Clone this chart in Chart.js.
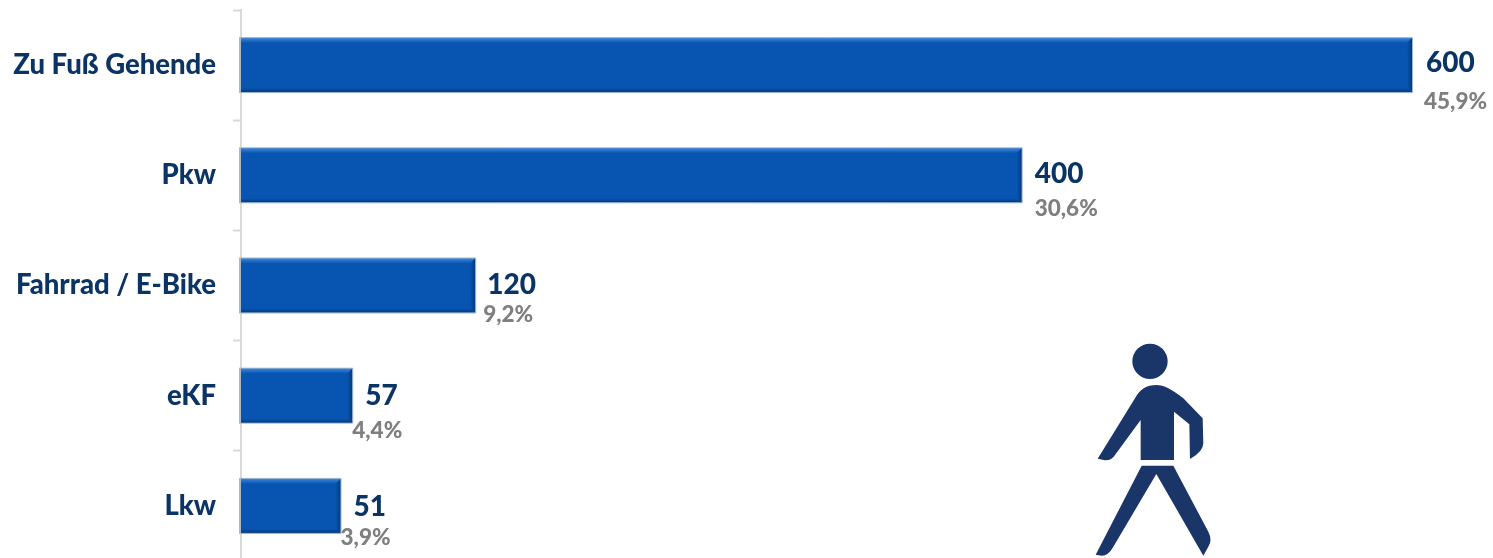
<!DOCTYPE html>
<html lang="de">
<head>
<meta charset="utf-8">
<title>Verkehrsteilnahme</title>
<script src="https://cdn.jsdelivr.net/npm/chart.js@4"></script>
<style>
  html, body { margin: 0; padding: 0; width: 1493px; height: 558px; overflow: hidden; background: #fff; }
  #wrap { position: relative; width: 1493px; height: 558px; overflow: hidden; }
  canvas { position: absolute; left: 0; top: 0; }
  #walker { position: absolute; left: 1060px; top: 330px; width: 180px; height: 228px; }
</style>
</head>
<body>
<div id="wrap">
  <canvas id="chart" width="1493" height="562"></canvas>
  <!-- pedestrian pictogram, decoration only -->
  <svg id="walker" viewBox="0 0 540 684" fill="#1a3668">
    <circle cx="270" cy="94" r="53"/>
    <path d="M242,390 L242,270 L165,375 Q155,392 135,391 L113,386 L225,205 Q245,165 290,165 Q320,165 370,205 L428,265 L430,340 Q430,365 390,387 L388,283 L342,245 L342,390 Z"/>
    <path d="M245,407 L340,407 L445,605 Q458,630 445,650 L430,677 L289,432 L160,650 Q145,677 125,677 L107,674 Z"/>
  </svg>
</div>
<script>
const categories = ["Zu Fuß Gehende", "Pkw", "Fahrrad / E-Bike", "eKF", "Lkw"]
const values = [600, 400, 120, 57, 51]
const shares = ["45,9%", "30,6%", "9,2%", "4,4%", "3,9%"]

// label placement relative to the bar end, in px
const valueOffsetX = [14, 13, 12, 13, 13]
const shareOffsetX = [12, 13, 8, 0, 0]
const valueOffsetY = [-2, -1, -1, 0, 1]
const shareOffsetY = [37, 33, 29, 35, 32]

const NAVY = "#0a3466"
const GREY = "#7f7f7f"

// bevel + shadow look of the bars
const barBevel = {
  id: "barBevel",
  afterDatasetsDraw(chart) {
    const { ctx } = chart
    chart.getDatasetMeta(0).data.forEach(bar => {
      const l = bar.base, r = bar.x
      const t = bar.y - bar.height / 2, b = bar.y + bar.height / 2
      const s = 5
      ctx.save()

      // top highlight
      let g = ctx.createLinearGradient(0, t, 0, t + s)
      g.addColorStop(0, "#3a85dc")
      g.addColorStop(1, "#0755b0")
      ctx.fillStyle = g
      ctx.beginPath()
      ctx.moveTo(l, t); ctx.lineTo(r, t); ctx.lineTo(r - s, t + s); ctx.lineTo(l, t + s)
      ctx.fill()

      // bottom edge
      g = ctx.createLinearGradient(0, b - 4, 0, b)
      g.addColorStop(0, "#0755b0")
      g.addColorStop(1, "#063a7c")
      ctx.fillStyle = g
      ctx.beginPath()
      ctx.moveTo(l, b); ctx.lineTo(r, b); ctx.lineTo(r - 4, b - 4); ctx.lineTo(l, b - 4)
      ctx.fill()

      // right edge
      g = ctx.createLinearGradient(r - 5, 0, r, 0)
      g.addColorStop(0, "#0755b0")
      g.addColorStop(1, "#063a7c")
      ctx.fillStyle = g
      ctx.beginPath()
      ctx.moveTo(r, t); ctx.lineTo(r, b); ctx.lineTo(r - 4, b - 4); ctx.lineTo(r - 5, t + 5)
      ctx.fill()

      // soft outline on the outer edges and grey strip at the axis
      ctx.strokeStyle = "#9fb6d0"
      ctx.lineWidth = 1
      ctx.beginPath()
      ctx.moveTo(l, t - 0.5); ctx.lineTo(r + 0.5, t - 0.5); ctx.lineTo(r + 0.5, b + 0.5); ctx.lineTo(l, b + 0.5)
      ctx.stroke()
      ctx.fillStyle = "#a9b8c8"
      ctx.fillRect(l - 2, t - 1, 2, bar.height + 2)
      ctx.restore()
    })
  }
}

// value and share printed beside each bar
const barLabels = {
  id: "barLabels",
  afterDraw(chart) {
    const { ctx } = chart
    ctx.save()
    ctx.textAlign = "left"
    ctx.textBaseline = "middle"
    chart.getDatasetMeta(0).data.forEach((bar, i) => {
      ctx.font = "900 28px Lato"
      ctx.fillStyle = NAVY
      ctx.fillText(String(values[i]), bar.x + valueOffsetX[i], bar.y + valueOffsetY[i])
      ctx.font = "900 22.5px Lato"
      ctx.fillStyle = GREY
      ctx.fillText(shares[i], bar.x + shareOffsetX[i], bar.y + shareOffsetY[i])
    })
    ctx.restore()
  }
}

new Chart(document.getElementById("chart"), {
  type: "bar",
  data: {
    labels: categories,
    datasets: [{ data: values, backgroundColor: "#0755b0", borderWidth: 0, barThickness: 54 }],
  },
  options: {
    indexAxis: "y",
    responsive: false,
    animation: false,
    layout: { padding: { top: 10, bottom: 1, left: 0, right: 0 } },
    scales: {
      x: { display: false, min: 0, max: 641.5 },
      y: {
        // no room for half a label above/below: the band edges run to the plot edges
        afterFit(scale) {
          scale.width = 241
          scale.paddingTop = 0
          scale.paddingBottom = 0
        },
        border: { color: "#d9d9d9", width: 2 },
        grid: { drawOnChartArea: false, offset: true, color: "#d9d9d9", tickLength: 8, tickWidth: 2 },
        ticks: { color: NAVY, padding: 17, font: { family: "Lato", size: 27.5, weight: "900" } },
      },
    },
    plugins: { legend: { display: false }, tooltip: { enabled: false } },
  },
  plugins: [barBevel, barLabels],
})
</script>
</body>
</html>
